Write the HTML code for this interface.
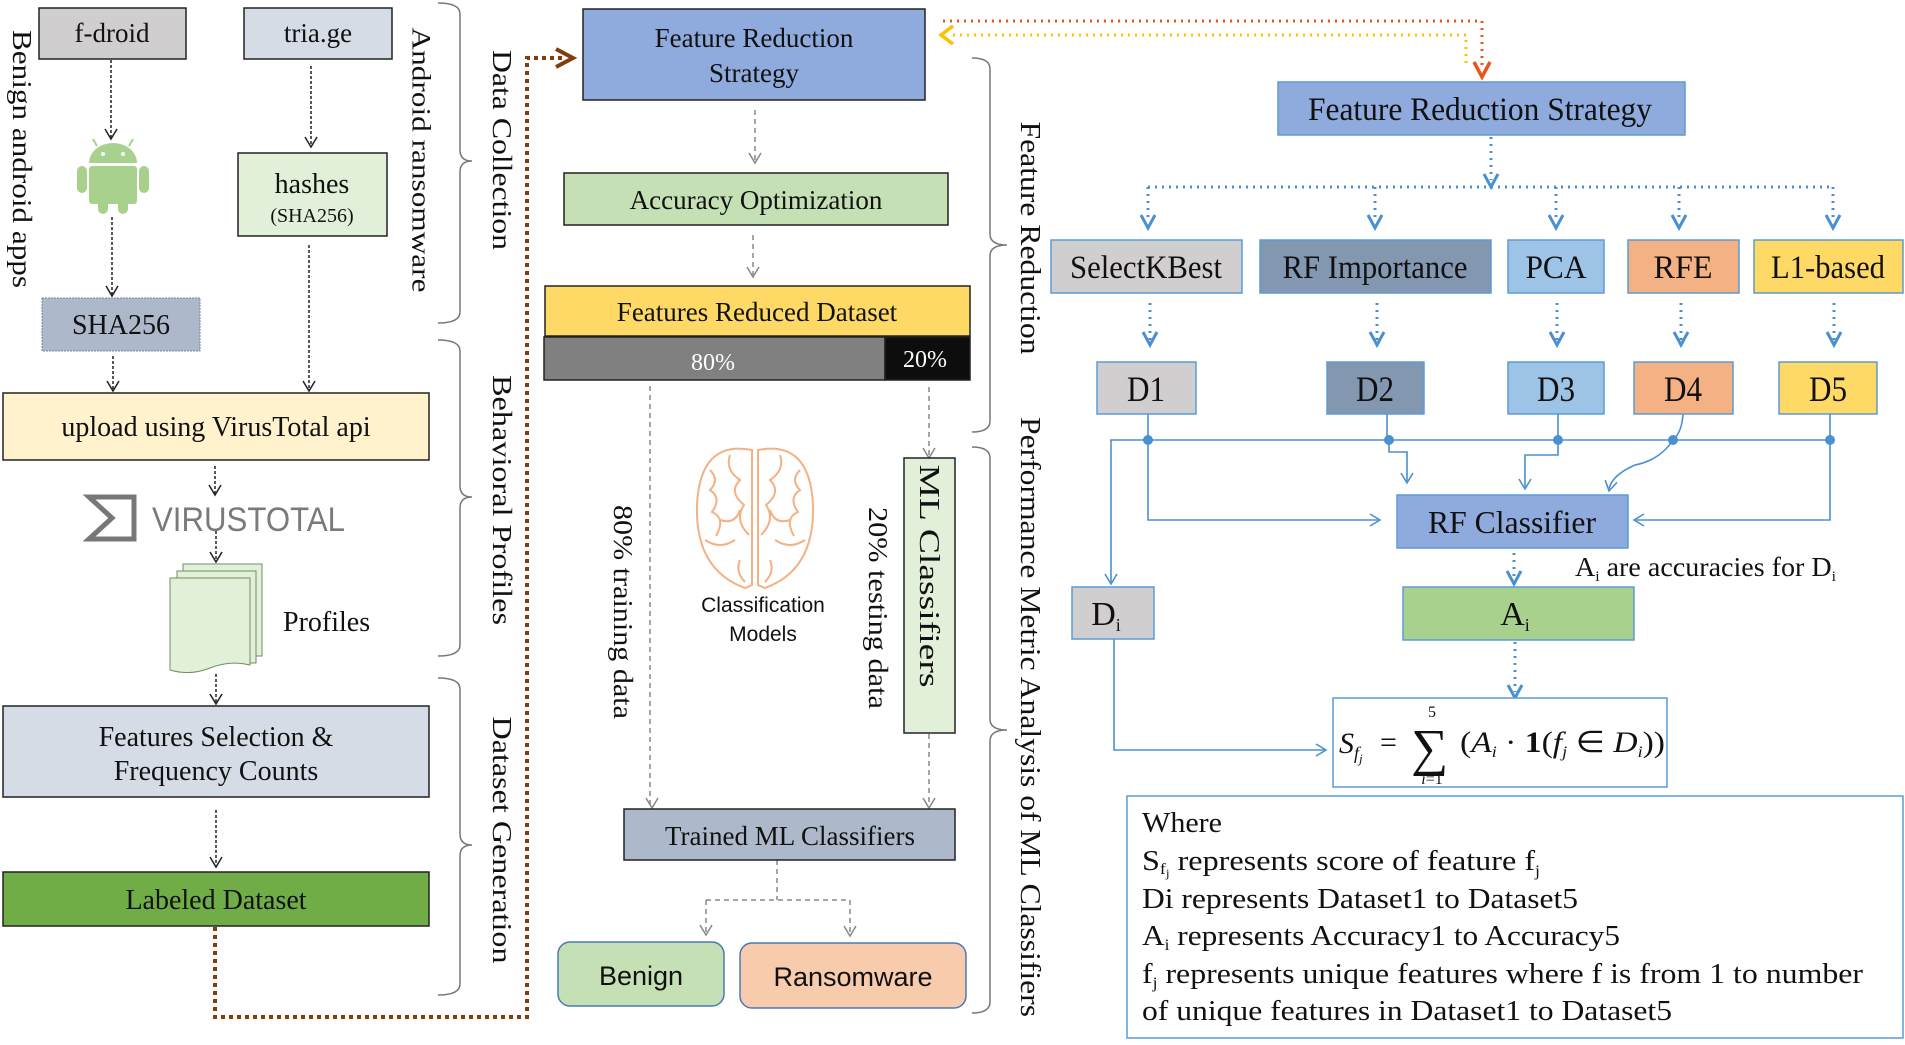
<!DOCTYPE html>
<html><head><meta charset="utf-8"><style>
html,body{margin:0;padding:0;background:#fff}
svg{display:block}
text{font-family:"Liberation Serif",serif;fill:#111}
.s{font-family:"Liberation Sans Narrow","Liberation Sans",sans-serif}
</style></head><body>
<svg width="1905" height="1045" viewBox="0 0 1905 1045" xmlns="http://www.w3.org/2000/svg">
<defs>
<g id="av"><path d="M-6,-10 L0,0 L6,-10" fill="none" stroke="#222" stroke-width="1.5"/></g>
<g id="gv"><path d="M-6,-10 L0,0 L6,-10" fill="none" stroke="#888" stroke-width="1.5"/></g>
<g id="bv"><path d="M-7,-13 L0,0 L7,-13" fill="none" stroke="#4a90d0" stroke-width="3"/></g>
<g id="tv"><path d="M-6,-10 L0,0 L6,-10" fill="none" stroke="#4a90d0" stroke-width="1.6"/></g>
</defs>

<rect x="39" y="8" width="147" height="51" fill="#d0cece" stroke="#222" stroke-width="1.5"/>
<text x="112" y="42" font-size="27" text-anchor="middle">f-droid</text>
<rect x="244" y="8" width="148" height="51" fill="#d6dce5" stroke="#222" stroke-width="1.5"/>
<text x="318" y="42" font-size="27" text-anchor="middle">tria.ge</text>

<g fill="#a9d18e">
<path d="M89,163 A24,20 0 0 1 137,163 Z"/>
<rect x="89" y="166" width="48" height="38" rx="3"/>
<rect x="77" y="166" width="10" height="27" rx="5"/>
<rect x="139" y="166" width="10" height="27" rx="5"/>
<rect x="98" y="198" width="10" height="16" rx="5"/>
<rect x="118" y="198" width="10" height="16" rx="5"/>
<line x1="97" y1="146" x2="93" y2="139" stroke="#a9d18e" stroke-width="2"/>
<line x1="129" y1="146" x2="133" y2="139" stroke="#a9d18e" stroke-width="2"/>
</g>
<circle cx="103" cy="154" r="2" fill="#fff"/><circle cx="123" cy="154" r="2" fill="#fff"/>

<rect x="238" y="153" width="149" height="83" fill="#e2f0d9" stroke="#222" stroke-width="1.5"/>
<text x="312" y="193" font-size="28" text-anchor="middle">hashes</text>
<text x="312" y="222" font-size="20" text-anchor="middle">(SHA256)</text>

<rect x="42" y="298" width="158" height="53" fill="#adb9ca" stroke="#6f86a8" stroke-width="1" stroke-dasharray="2 1"/>
<text x="121" y="334" font-size="28" text-anchor="middle">SHA256</text>

<rect x="3" y="393" width="426" height="67" fill="#fff2cc" stroke="#222" stroke-width="1.5"/>
<text x="216" y="436" font-size="28" text-anchor="middle">upload using VirusTotal api</text>

<path d="M89,497 L134,497 L134,539 L89,539 L112,518 Z" fill="none" stroke="#777" stroke-width="5"/>
<text x="152" y="531" font-size="34" style="fill:#7a7a7a;font-family:'Liberation Sans',sans-serif" textLength="193" lengthAdjust="spacingAndGlyphs">VIRUSTOTAL</text>

<g fill="#e2f0d9" stroke="#6f8f5e" stroke-width="1">
<rect x="183" y="564" width="79" height="92"/>
<rect x="177" y="571" width="79" height="92"/>
<path d="M170,578 L250,578 L250,665 Q230,660 210,668 Q190,676 170,670 Z"/>
</g>
<text x="283" y="631" font-size="28">Profiles</text>

<rect x="3" y="706" width="426" height="91" fill="#d6dce5" stroke="#222" stroke-width="1.5"/>
<text x="216" y="746" font-size="28" text-anchor="middle">Features Selection &amp;</text>
<text x="216" y="780" font-size="28" text-anchor="middle">Frequency Counts</text>

<rect x="3" y="872" width="426" height="54" fill="#70ad47" stroke="#222" stroke-width="1.5"/>
<text x="216" y="909" font-size="28" text-anchor="middle">Labeled Dataset</text>

<g stroke="#222" stroke-width="1.5" stroke-dasharray="3 2" fill="none">
<line x1="111" y1="60" x2="111" y2="138"/>
<line x1="112" y1="217" x2="112" y2="295"/>
<line x1="311" y1="66" x2="311" y2="146"/>
<line x1="309" y1="245" x2="309" y2="390"/>
<line x1="113" y1="356" x2="113" y2="390"/>
<line x1="215" y1="466" x2="215" y2="494"/>
<line x1="216" y1="531" x2="216" y2="561"/>
<line x1="216" y1="674" x2="216" y2="703"/>
<line x1="216" y1="810" x2="216" y2="866"/>
</g>
<use href="#av" x="111" y="139"/><use href="#av" x="112" y="296"/><use href="#av" x="311" y="147"/>
<use href="#av" x="309" y="391"/><use href="#av" x="113" y="391"/><use href="#av" x="215" y="495"/>
<use href="#av" x="216" y="562"/><use href="#av" x="216" y="704"/><use href="#av" x="216" y="867"/>

<g font-size="27">
<text transform="translate(22,159) rotate(90)" text-anchor="middle" dominant-baseline="central" textLength="258" lengthAdjust="spacingAndGlyphs">Benign android apps</text>
<text transform="translate(421,160) rotate(90)" text-anchor="middle" dominant-baseline="central" textLength="265" lengthAdjust="spacingAndGlyphs" font-size="26">Android ransomware</text>
<text transform="translate(502,150) rotate(90)" text-anchor="middle" dominant-baseline="central" textLength="200" lengthAdjust="spacingAndGlyphs">Data Collection</text>
<text transform="translate(502,500) rotate(90)" text-anchor="middle" dominant-baseline="central" textLength="250" lengthAdjust="spacingAndGlyphs">Behavioral Profiles</text>
<text transform="translate(502,840) rotate(90)" text-anchor="middle" dominant-baseline="central" textLength="247" lengthAdjust="spacingAndGlyphs">Dataset Generation</text>
<text transform="translate(1030,238) rotate(90)" text-anchor="middle" dominant-baseline="central" textLength="233" lengthAdjust="spacingAndGlyphs" font-size="29">Feature Reduction</text>
<text transform="translate(1030,717) rotate(90)" text-anchor="middle" dominant-baseline="central" textLength="600" lengthAdjust="spacingAndGlyphs" font-size="29">Performance Metric Analysis of ML Classifiers</text>
<text transform="translate(623,612) rotate(90)" text-anchor="middle" dominant-baseline="central" textLength="214" lengthAdjust="spacingAndGlyphs" font-size="27">80% training data</text>
<text transform="translate(878,608) rotate(90)" text-anchor="middle" dominant-baseline="central" textLength="202" lengthAdjust="spacingAndGlyphs" font-size="27">20% testing data</text>
</g>

<g fill="none" stroke="#777" stroke-width="1.5">
<path d="M438,3 Q460,3 460,14 L460,150 Q460,161 472,161 Q460,161 460,172 L460,312 Q460,323 438,323"/>
<path d="M438,340 Q460,340 460,351 L460,486 Q460,497 472,497 Q460,497 460,508 L460,645 Q460,656 438,656"/>
<path d="M438,678 Q460,678 460,689 L460,834 Q460,845 472,845 Q460,845 460,856 L460,984 Q460,995 438,995"/>
<path d="M972,58 Q990,58 990,69 L990,234 Q990,245 1007,245 Q990,245 990,256 L990,421 Q990,432 972,432"/>
<path d="M972,447 Q990,447 990,458 L990,719 Q990,730 1007,730 Q990,730 990,741 L990,1002 Q990,1013 972,1013"/>
</g>

<path d="M215,927 L215,1017 L527,1017 L527,58 L566,58" fill="none" stroke="#843c0c" stroke-width="4" stroke-dasharray="4 4"/>
<path d="M556,49 L573,58 L556,67" fill="none" stroke="#843c0c" stroke-width="4"/>

<rect x="583" y="9" width="342" height="91" fill="#8faadc" stroke="#222" stroke-width="1.5"/>
<text x="754" y="47" font-size="27" text-anchor="middle">Feature Reduction</text>
<text x="754" y="82" font-size="27" text-anchor="middle">Strategy</text>
<rect x="564" y="173" width="384" height="52" fill="#c5e0b4" stroke="#222" stroke-width="1.5"/>
<text x="756" y="209" font-size="27" text-anchor="middle">Accuracy  Optimization</text>
<rect x="545" y="286" width="425" height="50" fill="#ffd966" stroke="#222" stroke-width="1.5"/>
<text x="757" y="321" font-size="27" text-anchor="middle">Features Reduced Dataset</text>
<rect x="544" y="337" width="341" height="43" fill="#808080" stroke="#222" stroke-width="1.5"/>
<rect x="885" y="337" width="85" height="43" fill="#0d0d0d" stroke="#222" stroke-width="1.5"/>
<text x="713" y="370" font-size="24" text-anchor="middle" style="fill:#fff">80%</text>
<text x="925" y="367" font-size="24" text-anchor="middle" style="fill:#fff">20%</text>

<g stroke="#888" stroke-width="1.5" stroke-dasharray="5 4" fill="none">
<line x1="755" y1="110" x2="755" y2="161"/>
<line x1="753" y1="235" x2="753" y2="275"/>
<line x1="650" y1="386" x2="650" y2="806"/>
<line x1="929" y1="387" x2="929" y2="456"/>
<line x1="929" y1="734" x2="929" y2="806"/>
<path d="M777,860 L777,900 M706,900 L850,900 M706,900 L706,933 M850,900 L850,934"/>
</g>
<use href="#gv" x="755" y="163"/><use href="#gv" x="753" y="277"/><use href="#gv" x="652" y="808"/>
<use href="#gv" x="929" y="458"/><use href="#gv" x="929" y="808"/><use href="#gv" x="706" y="935"/><use href="#gv" x="850" y="936"/>

<g fill="none" stroke="#f4b183" stroke-width="2">
<path d="M752,450 Q700,440 697,505 Q695,570 745,588 L752,585 Z"/>
<path d="M758,450 Q810,440 813,505 Q815,570 765,588 L758,585 Z"/>
<path d="M710,470 q10,10 0,20 q12,8 2,22 q14,6 4,24 M730,455 q-5,15 10,25 q-12,12 4,25 q-10,15 5,30 M720,520 q15,5 20,-10 M705,540 q15,10 30,0 M740,560 q-5,12 5,22"/>
<path d="M800,470 q-10,10 0,20 q-12,8 -2,22 q-14,6 -4,24 M780,455 q5,15 -10,25 q12,12 -4,25 q10,15 -5,30 M790,520 q-15,5 -20,-10 M805,540 q-15,10 -30,0 M770,560 q5,12 -5,22"/>
</g>
<text class="s" x="763" y="612" font-size="21" text-anchor="middle">Classification</text>
<text class="s" x="763" y="641" font-size="21" text-anchor="middle">Models</text>

<rect x="904" y="458" width="51" height="275" fill="#e2f0d9" stroke="#222" stroke-width="1.5"/>
<text transform="translate(929,576) rotate(90)" font-size="29" text-anchor="middle" dominant-baseline="central" textLength="223" lengthAdjust="spacingAndGlyphs">ML Classifiers</text>

<rect x="624" y="809" width="331" height="51" fill="#adb9ca" stroke="#222" stroke-width="1.5"/>
<text x="790" y="845" font-size="27" text-anchor="middle">Trained ML Classifiers</text>

<rect x="558" y="942" width="166" height="64" rx="12" fill="#c5e0b4" stroke="#4a7ab5" stroke-width="1.5"/>
<text class="s" x="641" y="985" font-size="27" text-anchor="middle">Benign</text>
<rect x="740" y="943" width="226" height="65" rx="12" fill="#f8cbad" stroke="#4a7ab5" stroke-width="1.5"/>
<text class="s" x="853" y="986" font-size="27" text-anchor="middle">Ransomware</text>

<path d="M943,21 L1482,21 L1482,70" fill="none" stroke="#e8561a" stroke-width="3" stroke-dasharray="2 5"/>
<path d="M953,35 L1466,35 L1466,63" fill="none" stroke="#ffc000" stroke-width="3" stroke-dasharray="2 5"/>
<path d="M953,26 L941,35 L953,44" fill="none" stroke="#ffc000" stroke-width="3.5"/>
<path d="M1474,62 L1482,77 L1490,62" fill="none" stroke="#e8561a" stroke-width="3.5"/>

<rect x="1278" y="82" width="407" height="53" fill="#8faadc" stroke="#5b9bd5" stroke-width="1.5"/>
<text x="1308" y="120" font-size="33" textLength="344" lengthAdjust="spacingAndGlyphs">Feature Reduction Strategy</text>

<g stroke="#4a90d0" stroke-width="3" stroke-dasharray="2 5" fill="none">
<line x1="1491" y1="137" x2="1491" y2="180"/>
<line x1="1148" y1="187" x2="1833" y2="187"/>
<line x1="1148" y1="187" x2="1148" y2="222"/>
<line x1="1375" y1="187" x2="1375" y2="222"/>
<line x1="1556" y1="187" x2="1556" y2="222"/>
<line x1="1679" y1="187" x2="1679" y2="222"/>
<line x1="1833" y1="187" x2="1833" y2="222"/>
<line x1="1150" y1="303" x2="1150" y2="340"/>
<line x1="1377" y1="303" x2="1377" y2="340"/>
<line x1="1557" y1="303" x2="1557" y2="340"/>
<line x1="1681" y1="303" x2="1681" y2="340"/>
<line x1="1834" y1="303" x2="1834" y2="340"/>
<line x1="1514" y1="553" x2="1514" y2="578"/>
<line x1="1515" y1="642" x2="1515" y2="692"/>
</g>
<use href="#bv" x="1491" y="187"/>
<use href="#bv" x="1148" y="228"/><use href="#bv" x="1375" y="228"/><use href="#bv" x="1556" y="228"/><use href="#bv" x="1679" y="228"/><use href="#bv" x="1833" y="228"/>
<use href="#bv" x="1150" y="345"/><use href="#bv" x="1377" y="345"/><use href="#bv" x="1557" y="345"/><use href="#bv" x="1681" y="345"/><use href="#bv" x="1834" y="345"/>
<use href="#bv" x="1514" y="584"/><use href="#bv" x="1515" y="698"/>

<g stroke="#5b9bd5" stroke-width="1.5">
<rect x="1051" y="240" width="191" height="53" fill="#d0cece"/>
<rect x="1260" y="240" width="231" height="53" fill="#8497b0"/>
<rect x="1508" y="240" width="96" height="53" fill="#9dc3e6"/>
<rect x="1628" y="240" width="111" height="53" fill="#f4b183"/>
<rect x="1754" y="240" width="149" height="53" fill="#ffd966"/>
<rect x="1097" y="362" width="99" height="52" fill="#d0cece"/>
<rect x="1327" y="362" width="97" height="52" fill="#8497b0"/>
<rect x="1508" y="362" width="96" height="52" fill="#9dc3e6"/>
<rect x="1634" y="362" width="99" height="52" fill="#f4b183"/>
<rect x="1779" y="362" width="98" height="52" fill="#ffd966"/>
</g>
<g font-size="33" text-anchor="middle">
<text x="1146" y="278" textLength="152" lengthAdjust="spacingAndGlyphs">SelectKBest</text>
<text x="1375" y="278" textLength="185" lengthAdjust="spacingAndGlyphs">RF Importance</text>
<text x="1556" y="278" textLength="61" lengthAdjust="spacingAndGlyphs">PCA</text>
<text x="1683" y="278" textLength="59" lengthAdjust="spacingAndGlyphs">RFE</text>
<text x="1828" y="278" textLength="114" lengthAdjust="spacingAndGlyphs">L1-based</text>
</g>
<g font-size="36" text-anchor="middle">
<text x="1146" y="401" textLength="38" lengthAdjust="spacingAndGlyphs">D1</text>
<text x="1375" y="401" textLength="38" lengthAdjust="spacingAndGlyphs">D2</text>
<text x="1556" y="401" textLength="38" lengthAdjust="spacingAndGlyphs">D3</text>
<text x="1683" y="401" textLength="38" lengthAdjust="spacingAndGlyphs">D4</text>
<text x="1828" y="401" textLength="38" lengthAdjust="spacingAndGlyphs">D5</text>
</g>

<g stroke="#4a90d0" stroke-width="1.6" fill="none">
<line x1="1110" y1="440" x2="1831" y2="440"/>
<line x1="1148" y1="414" x2="1148" y2="440"/>
<line x1="1387" y1="414" x2="1387" y2="440"/>
<line x1="1558" y1="414" x2="1558" y2="440"/>
<path d="M1683,414 Q1682,432 1673,440"/>
<line x1="1830" y1="414" x2="1830" y2="440"/>
<path d="M1111,440 L1111,582"/>
<path d="M1148,440 L1148,520 L1378,520"/>
<path d="M1389,440 L1389,452 L1407,452 L1407,481"/>
<path d="M1558,440 L1558,455 L1525,455 L1525,487"/>
<path d="M1673,440 Q1660,460 1635,465 Q1612,475 1609,489"/>
<path d="M1830,440 L1830,520 L1636,520"/>
<path d="M1114,639 L1114,750 L1324,750"/>
</g>
<g fill="#4a90d0">
<circle cx="1148" cy="440" r="5"/><circle cx="1389" cy="440" r="5"/><circle cx="1558" cy="440" r="5"/><circle cx="1673" cy="440" r="5"/><circle cx="1830" cy="440" r="5"/>
</g>
<use href="#tv" x="1111" y="584"/><use href="#tv" x="1407" y="483"/><use href="#tv" x="1525" y="489"/>
<use href="#tv" transform="translate(1609,491) rotate(12)"/>
<use href="#tv" transform="translate(1380,520) rotate(-90)"/>
<use href="#tv" transform="translate(1634,520) rotate(90)"/>
<use href="#tv" transform="translate(1326,750) rotate(-90)"/>

<rect x="1397" y="495" width="231" height="53" fill="#8faadc" stroke="#5b9bd5" stroke-width="1.5"/>
<text x="1512" y="533" font-size="32" text-anchor="middle" textLength="168" lengthAdjust="spacingAndGlyphs">RF Classifier</text>
<text x="1575" y="576" font-size="27" textLength="261" lengthAdjust="spacingAndGlyphs">A<tspan font-size="15" dy="5">i</tspan><tspan dy="-5"> are accuracies for D</tspan><tspan font-size="15" dy="5">i</tspan></text>

<rect x="1072" y="587" width="82" height="52" fill="#d0cece" stroke="#5b9bd5" stroke-width="1.5"/>
<text x="1106" y="625" font-size="34" text-anchor="middle">D<tspan font-size="18" dy="6">i</tspan></text>
<rect x="1403" y="587" width="231" height="53" fill="#a9d18e" stroke="#5b9bd5" stroke-width="1.5"/>
<text x="1515" y="625" font-size="34" text-anchor="middle">A<tspan font-size="18" dy="6">i</tspan></text>

<rect x="1333" y="698" width="334" height="89" fill="#fff" stroke="#5b9bd5" stroke-width="1.5"/>
<g font-size="30">
<text x="1339" y="753" font-style="italic">S<tspan font-size="18" dy="6">f</tspan><tspan font-size="13" dy="4">j</tspan></text>
<text x="1380" y="752">=</text>
<text x="1411" y="765" font-size="52">∑</text>
<text x="1432" y="717" font-size="16" text-anchor="middle">5</text>
<text x="1432" y="784" font-size="16" text-anchor="middle" font-style="italic">i<tspan font-style="normal">=1</tspan></text>
<text x="1460" y="752" textLength="205" lengthAdjust="spacingAndGlyphs">(<tspan font-style="italic">A</tspan><tspan font-size="16" dy="5" font-style="italic">i</tspan><tspan dy="-5"> · </tspan><tspan font-weight="bold">1</tspan>(<tspan font-style="italic">f</tspan><tspan font-size="16" dy="5" font-style="italic">j</tspan><tspan dy="-5"> ∈ </tspan><tspan font-style="italic">D</tspan><tspan font-size="16" dy="5" font-style="italic">i</tspan><tspan dy="-5">))</tspan></text>
</g>

<rect x="1127" y="796" width="776" height="242" fill="#fff" stroke="#5b9bd5" stroke-width="1.5"/>
<g font-size="29">
<text x="1142" y="832" textLength="80" lengthAdjust="spacingAndGlyphs">Where</text>
<text x="1142" y="870" textLength="398" lengthAdjust="spacingAndGlyphs">S<tspan font-size="16" dy="4">f</tspan><tspan font-size="12" dy="3">j</tspan><tspan dy="-7"> represents  score of feature f</tspan><tspan font-size="16" dy="6">j</tspan></text>
<text x="1142" y="908" textLength="436" lengthAdjust="spacingAndGlyphs">Di represents  Dataset1  to Dataset5</text>
<text x="1142" y="945" textLength="478" lengthAdjust="spacingAndGlyphs">A<tspan font-size="16" dy="5">i</tspan><tspan dy="-5"> represents  Accuracy1  to Accuracy5</tspan></text>
<text x="1142" y="983" textLength="721" lengthAdjust="spacingAndGlyphs">f<tspan font-size="16" dy="5">j</tspan><tspan dy="-5"> represents  unique features  where  f is from  1 to number</tspan></text>
<text x="1142" y="1020" textLength="530" lengthAdjust="spacingAndGlyphs">of unique  features  in Dataset1  to Dataset5</text>
</g>
</svg>
</body></html>
